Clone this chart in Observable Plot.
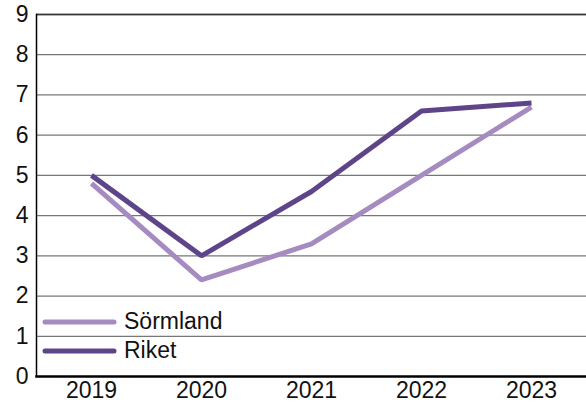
<!DOCTYPE html>
<html><head><meta charset="utf-8">
<script src="https://cdn.jsdelivr.net/npm/d3@7"></script>
<script src="https://cdn.jsdelivr.net/npm/@observablehq/plot@0.6"></script>
<style>
body{margin:0;background:#fff;font-family:"Liberation Sans",Arial,sans-serif;}
#wrap{position:relative;width:586px;height:405px;}
#legend{position:absolute;left:42px;top:307px;font-size:23px;color:#111;line-height:29px;}
#legend div{display:flex;align-items:center;height:29px;}
#legend svg{margin-right:6px;}
</style></head><body>
<div id="wrap"><div id="chart"></div><div id="legend"></div></div>
<script>
const years = ["2019","2020","2021","2022","2023"];
const sormland = [4.8, 2.4, 3.3, 5.0, 6.7];
const riket = [5.0, 3.0, 4.6, 6.6, 6.8];
const seriesNames = ["Sörmland","Riket"];
const colors = ["#a68bc0","#5e4489"];
const yTicks = [0,1,2,3,4,5,6,7,8,9];

const data = [];
years.forEach((y,i)=>{
  data.push({year:y, value:sormland[i], series:seriesNames[0]});
  data.push({year:y, value:riket[i], series:seriesNames[1]});
});

const chart = Plot.plot({
  width:586, height:405,
  marginLeft:36, marginRight:0, marginTop:14, marginBottom:29,
  style:{fontFamily:"'Liberation Sans', Arial, sans-serif", fontSize:"23px", color:"#111", background:"#fff"},
  x:{type:"point", domain:years, padding:0.5, label:null},
  y:{domain:[0,9], label:null},
  color:{domain:seriesNames, range:colors},
  marks:[
    Plot.ruleY(yTicks.filter(d=>d>0), {stroke:"#777", strokeWidth:1.3}),
    Plot.ruleY([9], {stroke:"#333", strokeWidth:1.3}),
    Plot.axisY(yTicks, {tickSize:0, tickPadding:8, fontSize:23, fill:"#111"}),
    Plot.axisX({tickSize:0, tickPadding:5, fontSize:23, fill:"#111"}),
    Plot.line(data, {x:"year", y:"value", z:"series", stroke:"series", strokeWidth:5, strokeLinejoin:"miter", strokeLinecap:"butt"}),
    Plot.frame({anchor:"left", stroke:"#000", strokeWidth:1.5}),
    Plot.frame({anchor:"bottom", stroke:"#000", strokeWidth:2.5})
  ]
});
document.getElementById("chart").appendChild(chart);

const leg = document.getElementById("legend");
seriesNames.forEach((n,i)=>{
  const row = document.createElement("div");
  row.innerHTML = `<svg width="76" height="10"><line x1="3" x2="72" y1="5" y2="5" stroke="${colors[i]}" stroke-width="5" stroke-linecap="round"/></svg><span>${n}</span>`;
  leg.appendChild(row);
});
</script>
</body></html>
